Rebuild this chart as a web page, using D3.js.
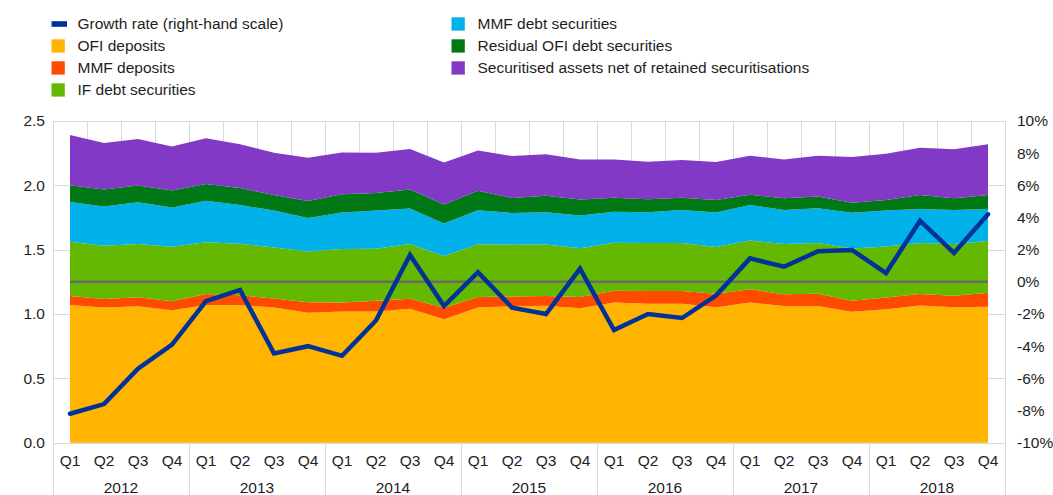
<!DOCTYPE html>
<html><head><meta charset="utf-8">
<script src="https://cdn.jsdelivr.net/npm/d3@7"></script>
<style>
body{margin:0;background:#fff}
svg{display:block}
text{font-family:"Liberation Sans",Arial,sans-serif;fill:#1e1e1e}
</style>
</head><body>
<svg id="c" width="1053" height="495"></svg>
<script>
const years = ["2012","2013","2014","2015","2016","2017","2018"];
const quarters = ["Q1","Q2","Q3","Q4"];
const categories = years.flatMap(y => quarters.map(q => y + "-" + q));

const ofiDeposits = [1.07,1.05,1.06,1.03,1.07,1.07,1.05,1.01,1.02,1.02,1.04,0.96,1.05,1.06,1.065,1.045,1.09,1.08,1.08,1.053,1.09,1.062,1.062,1.018,1.038,1.067,1.052,1.057];
const mmfDeposits = [0.07,0.067,0.07,0.07,0.085,0.075,0.07,0.082,0.07,0.083,0.078,0.088,0.083,0.077,0.075,0.088,0.09,0.098,0.098,0.104,0.103,0.091,0.096,0.085,0.09,0.088,0.09,0.109];
const ifDebt = [0.422,0.414,0.414,0.422,0.402,0.402,0.396,0.394,0.415,0.404,0.427,0.402,0.409,0.402,0.401,0.378,0.373,0.373,0.373,0.363,0.379,0.391,0.393,0.407,0.397,0.397,0.402,0.401];
const mmfDebt = [0.308,0.304,0.324,0.306,0.324,0.300,0.288,0.260,0.283,0.298,0.275,0.254,0.265,0.246,0.249,0.254,0.241,0.239,0.257,0.269,0.275,0.264,0.270,0.277,0.280,0.264,0.264,0.249];
const residualOfi = [0.130,0.132,0.130,0.132,0.129,0.132,0.121,0.133,0.142,0.135,0.147,0.147,0.150,0.117,0.129,0.124,0.109,0.101,0.096,0.097,0.079,0.091,0.093,0.078,0.082,0.109,0.091,0.109];
const securitised = [0.391,0.362,0.363,0.342,0.355,0.340,0.329,0.335,0.325,0.313,0.316,0.327,0.313,0.326,0.322,0.311,0.297,0.292,0.292,0.295,0.304,0.302,0.316,0.355,0.359,0.368,0.381,0.394];
const growthRate = [-8.2,-7.6,-5.4,-3.9,-1.2,-0.5,-4.45,-4.0,-4.6,-2.4,1.67,-1.5,0.6,-1.6,-2.0,0.82,-3.0,-2.0,-2.25,-0.85,1.46,0.94,1.9,1.98,0.55,3.8,1.8,4.2];

const leftTicks = [0,0.5,1.0,1.5,2.0,2.5];
const rightTicks = [-10,-8,-6,-4,-2,0,2,4,6,8,10];

const seriesNames = ["OFI deposits","MMF deposits","IF debt securities","MMF debt securities","Residual OFI debt securities","Securitised assets net of retained securitisations"];
const seriesValues = [ofiDeposits,mmfDeposits,ifDebt,mmfDebt,residualOfi,securitised];
const colors = {
  "OFI deposits":"#FFB400",
  "MMF deposits":"#FF4B00",
  "IF debt securities":"#65B800",
  "MMF debt securities":"#00B1EA",
  "Residual OFI debt securities":"#007816",
  "Securitised assets net of retained securitisations":"#8139C6"
};
const lineColor = "#003299";

const table = categories.map((c,i) => {
  const row = {cat:c};
  seriesNames.forEach((n,k) => row[n] = seriesValues[k][i]);
  row.growth = growthRate[i];
  return row;
});

const L = 53, R = 1005, T = 121, B = 442.7;
const svg = d3.select("#c");
const x = d3.scaleBand().domain(categories).range([L,R]).padding(0);
const xc = c => x(c) + x.bandwidth()/2;
const y = d3.scaleLinear().domain([0,2.5]).range([B,T]);
const y2 = d3.scaleLinear().domain([-10,10]).range([B,T]);
const xYear = d3.scaleBand().domain(years).range([L,R]).padding(0);

const grid = svg.append("g").attr("stroke","#d9d9d9").attr("stroke-width",1);
grid.selectAll("line.h").data(leftTicks).join("line").attr("class","h")
  .attr("x1",L).attr("x2",R).attr("y1",d=>Math.round(y(d))+0.5).attr("y2",d=>Math.round(y(d))+0.5);
grid.selectAll("line.v").data(categories.map(c=>x(c)).concat([R])).join("line").attr("class","v")
  .attr("x1",d=>Math.round(d)+0.5).attr("x2",d=>Math.round(d)+0.5).attr("y1",T).attr("y2",B);
grid.selectAll("line.s").data(years.map(yy=>xYear(yy)).concat([R])).join("line").attr("class","s")
  .attr("x1",d=>Math.round(d)+0.5).attr("x2",d=>Math.round(d)+0.5).attr("y1",B).attr("y2",495);

const stack = d3.stack().keys(seriesNames)(table);
const area = d3.area().x(d=>xc(d.data.cat)).y0(d=>y(d[0])).y1(d=>y(d[1]));
svg.append("g").selectAll("path").data(stack).join("path")
  .attr("d",area).attr("fill",d=>colors[d.key]);

svg.append("line").attr("x1",xc(categories[0])).attr("x2",xc(categories[categories.length-1]))
  .attr("y1",y2(0)).attr("y2",y2(0)).attr("stroke","#6a6a6a").attr("stroke-width",2.5);

const line = d3.line().x(d=>xc(d.cat)).y(d=>y2(d.growth));
svg.append("path").datum(table).attr("d",line).attr("fill","none")
  .attr("stroke",lineColor).attr("stroke-width",4.5).attr("stroke-linejoin","miter").attr("stroke-linecap","round");

const fs = "15.5px";
const la = svg.append("g").attr("transform",`translate(${L},0)`)
  .call(d3.axisLeft(y).tickValues(leftTicks).tickFormat(d3.format(".1f")).tickSize(0).tickPadding(8));
la.select(".domain").remove();
la.selectAll("text").style("font-size",fs).attr("fill","#1e1e1e");

const ra = svg.append("g").attr("transform",`translate(${R},0)`)
  .call(d3.axisRight(y2).tickValues(rightTicks).tickFormat(d=>d+"%").tickSize(0).tickPadding(12));
ra.select(".domain").remove();
ra.selectAll("text").style("font-size",fs).attr("fill","#1e1e1e");

const ba = svg.append("g").attr("transform",`translate(0,${B})`)
  .call(d3.axisBottom(x).tickFormat(d=>d.split("-")[1]).tickSize(0).tickPadding(12));
ba.select(".domain").remove();
ba.selectAll("text").style("font-size",fs).attr("fill","#1e1e1e");

svg.append("g").selectAll("text").data(years).join("text")
  .attr("x",d=>xYear(d)+xYear.bandwidth()/2).attr("y",493)
  .attr("text-anchor","middle").style("font-size",fs).text(d=>d);

// legend
const legendItems = [
  {name:"Growth rate (right-hand scale)", type:"line", col:0,row:0},
  {name:"OFI deposits", type:"box", col:0,row:1},
  {name:"MMF deposits", type:"box", col:0,row:2},
  {name:"IF debt securities", type:"box", col:0,row:3},
  {name:"MMF debt securities", type:"box", col:1,row:0},
  {name:"Residual OFI debt securities", type:"box", col:1,row:1},
  {name:"Securitised assets net of retained securitisations", type:"box", col:1,row:2}
];
const colX = [51.5, 451.5];
const rowY = [24, 46, 68, 90];
const lg = svg.append("g");
legendItems.forEach(it => {
  const gx = colX[it.col], gy = rowY[it.row];
  if (it.type === "line") {
    lg.append("rect").attr("x",gx).attr("y",gy-2.8).attr("width",15.5).attr("height",5.6).attr("fill",lineColor);
  } else {
    lg.append("rect").attr("x",gx).attr("y",gy-6.7).attr("width",13.3).attr("height",13.3).attr("fill",colors[it.name]);
  }
  lg.append("text").attr("x",gx+26).attr("y",gy).attr("dy","0.35em").style("font-size",fs).text(it.name);
});
</script>
</body></html>
